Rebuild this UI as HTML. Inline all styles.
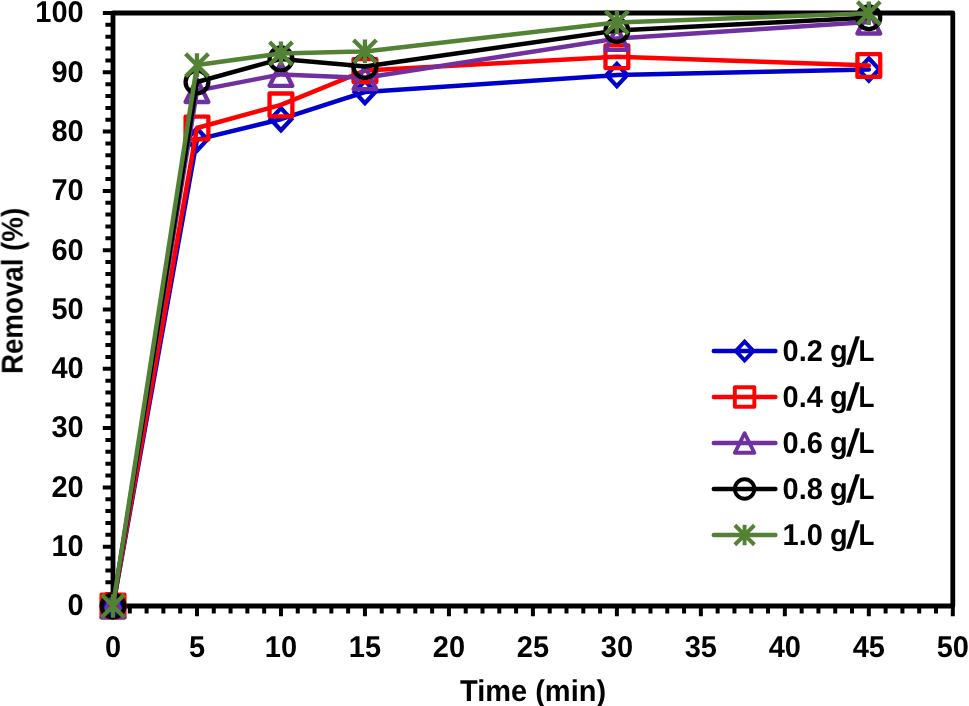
<!DOCTYPE html>
<html><head><meta charset="utf-8"><title>Removal vs Time</title>
<style>
html,body{margin:0;padding:0;background:#fff;}
body{width:969px;height:706px;overflow:hidden;font-family:"Liberation Sans",sans-serif;}
svg{display:block;}
</style></head><body>
<svg width="969" height="706" viewBox="0 0 969 706">
<rect width="969" height="706" fill="#fff"/>
<path d="M113.00 606.00H102.80M113.00 594.14H105.40M113.00 582.28H105.40M113.00 570.42H105.40M113.00 558.56H105.40M113.00 546.70H102.80M113.00 534.84H105.40M113.00 522.98H105.40M113.00 511.12H105.40M113.00 499.26H105.40M113.00 487.40H102.80M113.00 475.54H105.40M113.00 463.68H105.40M113.00 451.82H105.40M113.00 439.96H105.40M113.00 428.10H102.80M113.00 416.24H105.40M113.00 404.38H105.40M113.00 392.52H105.40M113.00 380.66H105.40M113.00 368.80H102.80M113.00 356.94H105.40M113.00 345.08H105.40M113.00 333.22H105.40M113.00 321.36H105.40M113.00 309.50H102.80M113.00 297.64H105.40M113.00 285.78H105.40M113.00 273.92H105.40M113.00 262.06H105.40M113.00 250.20H102.80M113.00 238.34H105.40M113.00 226.48H105.40M113.00 214.62H105.40M113.00 202.76H105.40M113.00 190.90H102.80M113.00 179.04H105.40M113.00 167.18H105.40M113.00 155.32H105.40M113.00 143.46H105.40M113.00 131.60H102.80M113.00 119.74H105.40M113.00 107.88H105.40M113.00 96.02H105.40M113.00 84.16H105.40M113.00 72.30H102.80M113.00 60.44H105.40M113.00 48.58H105.40M113.00 36.72H105.40M113.00 24.86H105.40M113.00 13.00H102.80M113.00 606.00V616.20M129.80 606.00V613.60M146.59 606.00V613.60M163.39 606.00V613.60M180.18 606.00V613.60M196.98 606.00V616.20M213.78 606.00V613.60M230.57 606.00V613.60M247.37 606.00V613.60M264.16 606.00V613.60M280.96 606.00V616.20M297.76 606.00V613.60M314.55 606.00V613.60M331.35 606.00V613.60M348.14 606.00V613.60M364.94 606.00V616.20M381.74 606.00V613.60M398.53 606.00V613.60M415.33 606.00V613.60M432.12 606.00V613.60M448.92 606.00V616.20M465.72 606.00V613.60M482.51 606.00V613.60M499.31 606.00V613.60M516.10 606.00V613.60M532.90 606.00V616.20M549.70 606.00V613.60M566.49 606.00V613.60M583.29 606.00V613.60M600.08 606.00V613.60M616.88 606.00V616.20M633.68 606.00V613.60M650.47 606.00V613.60M667.27 606.00V613.60M684.06 606.00V613.60M700.86 606.00V616.20M717.66 606.00V613.60M734.45 606.00V613.60M751.25 606.00V613.60M768.04 606.00V613.60M784.84 606.00V616.20M801.64 606.00V613.60M818.43 606.00V613.60M835.23 606.00V613.60M852.02 606.00V613.60M868.82 606.00V616.20M885.62 606.00V613.60M902.41 606.00V613.60M919.21 606.00V613.60M936.00 606.00V613.60M952.80 606.00V616.20" stroke="#000" stroke-width="4" fill="none"/>
<rect x="113.0" y="13.0" width="839.80" height="593.00" fill="none" stroke="#000" stroke-width="4.8" stroke-linejoin="round"/>
<g font-family="Liberation Sans, sans-serif" font-weight="bold" font-size="30" fill="#000" text-rendering="geometricPrecision" style="opacity:0.999">
<text transform="translate(83.70 615.30) scale(0.967 1)" text-anchor="end">0</text>
<text transform="translate(83.70 556.00) scale(0.967 1)" text-anchor="end">10</text>
<text transform="translate(83.70 496.70) scale(0.967 1)" text-anchor="end">20</text>
<text transform="translate(83.70 437.40) scale(0.967 1)" text-anchor="end">30</text>
<text transform="translate(83.70 378.10) scale(0.967 1)" text-anchor="end">40</text>
<text transform="translate(83.70 318.80) scale(0.967 1)" text-anchor="end">50</text>
<text transform="translate(83.70 259.50) scale(0.967 1)" text-anchor="end">60</text>
<text transform="translate(83.70 200.20) scale(0.967 1)" text-anchor="end">70</text>
<text transform="translate(83.70 140.90) scale(0.967 1)" text-anchor="end">80</text>
<text transform="translate(83.70 81.60) scale(0.967 1)" text-anchor="end">90</text>
<text transform="translate(83.70 22.30) scale(0.967 1)" text-anchor="end">100</text>
<text transform="translate(113.00 657.40) scale(0.967 1)" text-anchor="middle">0</text>
<text transform="translate(196.98 657.40) scale(0.967 1)" text-anchor="middle">5</text>
<text transform="translate(280.96 657.40) scale(0.967 1)" text-anchor="middle">10</text>
<text transform="translate(364.94 657.40) scale(0.967 1)" text-anchor="middle">15</text>
<text transform="translate(448.92 657.40) scale(0.967 1)" text-anchor="middle">20</text>
<text transform="translate(532.90 657.40) scale(0.967 1)" text-anchor="middle">25</text>
<text transform="translate(616.88 657.40) scale(0.967 1)" text-anchor="middle">30</text>
<text transform="translate(700.86 657.40) scale(0.967 1)" text-anchor="middle">35</text>
<text transform="translate(784.84 657.40) scale(0.967 1)" text-anchor="middle">40</text>
<text transform="translate(868.82 657.40) scale(0.967 1)" text-anchor="middle">45</text>
<text transform="translate(952.80 657.40) scale(0.967 1)" text-anchor="middle">50</text>
<text transform="translate(533.00 701.00) scale(0.967 1)" text-anchor="middle">Time (min)</text>
<text transform="translate(22.60 290.90) rotate(-90) scale(0.9234849999999999 1)" text-anchor="middle">Removal (%)</text>
<text transform="translate(782.5 360.70) scale(0.967 1)">0.2 <tspan dx="-1">g</tspan></text>
<text transform="matrix(1.27 0 -0.182 1.276 845.7 364.00)">/</text>
<text transform="translate(874.5 360.70) scale(0.87 1)" text-anchor="end">L</text>
<text transform="translate(782.5 406.70) scale(0.967 1)">0.4 <tspan dx="-1">g</tspan></text>
<text transform="matrix(1.27 0 -0.182 1.276 845.7 410.00)">/</text>
<text transform="translate(874.5 406.70) scale(0.87 1)" text-anchor="end">L</text>
<text transform="translate(782.5 452.70) scale(0.967 1)">0.6 <tspan dx="-1">g</tspan></text>
<text transform="matrix(1.27 0 -0.182 1.276 845.7 456.00)">/</text>
<text transform="translate(874.5 452.70) scale(0.87 1)" text-anchor="end">L</text>
<text transform="translate(782.5 498.70) scale(0.967 1)">0.8 <tspan dx="-1">g</tspan></text>
<text transform="matrix(1.27 0 -0.182 1.276 845.7 502.00)">/</text>
<text transform="translate(874.5 498.70) scale(0.87 1)" text-anchor="end">L</text>
<text transform="translate(782.5 544.70) scale(0.967 1)">1.0 <tspan dx="-1">g</tspan></text>
<text transform="matrix(1.27 0 -0.182 1.276 845.7 548.00)">/</text>
<text transform="translate(874.5 544.70) scale(0.87 1)" text-anchor="end">L</text>
</g>
<polyline points="113.00,606.00 196.98,139.60 280.96,119.20 364.94,92.00 616.88,75.10 868.82,69.40" fill="none" stroke="#0000CC" stroke-width="4.5" stroke-linejoin="round" stroke-linecap="round"/>
<path d="M113.00 594.90L123.32 606.00L113.00 617.10L102.68 606.00Z" fill="none" stroke="#0000CC" stroke-width="4.3" stroke-linejoin="miter"/>
<path d="M196.98 128.50L207.30 139.60L196.98 150.70L186.66 139.60Z" fill="none" stroke="#0000CC" stroke-width="4.3" stroke-linejoin="miter"/>
<path d="M280.96 108.10L291.28 119.20L280.96 130.30L270.64 119.20Z" fill="none" stroke="#0000CC" stroke-width="4.3" stroke-linejoin="miter"/>
<path d="M364.94 80.90L375.26 92.00L364.94 103.10L354.62 92.00Z" fill="none" stroke="#0000CC" stroke-width="4.3" stroke-linejoin="miter"/>
<path d="M616.88 64.00L627.20 75.10L616.88 86.20L606.56 75.10Z" fill="none" stroke="#0000CC" stroke-width="4.3" stroke-linejoin="miter"/>
<path d="M868.82 58.30L879.14 69.40L868.82 80.50L858.50 69.40Z" fill="none" stroke="#0000CC" stroke-width="4.3" stroke-linejoin="miter"/>
<polyline points="113.00,606.00 196.98,128.00 280.96,104.90 364.94,70.60 616.88,56.70 868.82,65.50" fill="none" stroke="#FF0000" stroke-width="4.5" stroke-linejoin="round" stroke-linecap="round"/>
<rect x="101.60" y="594.60" width="22.80" height="22.80" fill="none" stroke="#FF0000" stroke-width="4.3" stroke-linejoin="round"/>
<rect x="185.58" y="116.60" width="22.80" height="22.80" fill="none" stroke="#FF0000" stroke-width="4.3" stroke-linejoin="round"/>
<rect x="269.56" y="93.50" width="22.80" height="22.80" fill="none" stroke="#FF0000" stroke-width="4.3" stroke-linejoin="round"/>
<rect x="353.54" y="59.20" width="22.80" height="22.80" fill="none" stroke="#FF0000" stroke-width="4.3" stroke-linejoin="round"/>
<rect x="605.48" y="45.30" width="22.80" height="22.80" fill="none" stroke="#FF0000" stroke-width="4.3" stroke-linejoin="round"/>
<rect x="857.42" y="54.10" width="22.80" height="22.80" fill="none" stroke="#FF0000" stroke-width="4.3" stroke-linejoin="round"/>
<polyline points="113.00,606.00 196.98,90.60 280.96,74.40 364.94,77.80 616.88,38.50 868.82,22.10" fill="none" stroke="#7030A0" stroke-width="4.5" stroke-linejoin="round" stroke-linecap="round"/>
<path d="M113.00 594.60L124.40 617.40L101.60 617.40Z" fill="none" stroke="#7030A0" stroke-width="4.3" stroke-linejoin="round"/>
<path d="M196.98 79.20L208.38 102.00L185.58 102.00Z" fill="none" stroke="#7030A0" stroke-width="4.3" stroke-linejoin="round"/>
<path d="M280.96 63.00L292.36 85.80L269.56 85.80Z" fill="none" stroke="#7030A0" stroke-width="4.3" stroke-linejoin="round"/>
<path d="M364.94 66.40L376.34 89.20L353.54 89.20Z" fill="none" stroke="#7030A0" stroke-width="4.3" stroke-linejoin="round"/>
<path d="M616.88 27.10L628.28 49.90L605.48 49.90Z" fill="none" stroke="#7030A0" stroke-width="4.3" stroke-linejoin="round"/>
<path d="M868.82 10.70L880.22 33.50L857.42 33.50Z" fill="none" stroke="#7030A0" stroke-width="4.3" stroke-linejoin="round"/>
<polyline points="113.00,606.00 196.98,82.00 280.96,58.90 364.94,66.50 616.88,30.50 868.82,17.70" fill="none" stroke="#000000" stroke-width="4.5" stroke-linejoin="round" stroke-linecap="round"/>
<circle cx="113.00" cy="606.00" r="11.40" fill="none" stroke="#000000" stroke-width="4.3"/>
<circle cx="196.98" cy="82.00" r="11.40" fill="none" stroke="#000000" stroke-width="4.3"/>
<circle cx="280.96" cy="58.90" r="11.40" fill="none" stroke="#000000" stroke-width="4.3"/>
<circle cx="364.94" cy="66.50" r="11.40" fill="none" stroke="#000000" stroke-width="4.3"/>
<circle cx="616.88" cy="30.50" r="11.40" fill="none" stroke="#000000" stroke-width="4.3"/>
<circle cx="868.82" cy="17.70" r="11.40" fill="none" stroke="#000000" stroke-width="4.3"/>
<polyline points="113.00,606.00 196.98,65.10 280.96,53.40 364.94,51.40 616.88,22.40 868.82,13.20" fill="none" stroke="#548235" stroke-width="4.5" stroke-linejoin="round" stroke-linecap="round"/>
<path d="M101.60 594.60L124.40 617.40M124.40 594.60L101.60 617.40M113.00 594.20L113.00 617.80" fill="none" stroke="#548235" stroke-width="4.3" stroke-linecap="butt"/>
<path d="M185.58 53.70L208.38 76.50M208.38 53.70L185.58 76.50M196.98 53.30L196.98 76.90" fill="none" stroke="#548235" stroke-width="4.3" stroke-linecap="butt"/>
<path d="M269.56 42.00L292.36 64.80M292.36 42.00L269.56 64.80M280.96 41.60L280.96 65.20" fill="none" stroke="#548235" stroke-width="4.3" stroke-linecap="butt"/>
<path d="M353.54 40.00L376.34 62.80M376.34 40.00L353.54 62.80M364.94 39.60L364.94 63.20" fill="none" stroke="#548235" stroke-width="4.3" stroke-linecap="butt"/>
<path d="M605.48 11.00L628.28 33.80M628.28 11.00L605.48 33.80M616.88 10.60L616.88 34.20" fill="none" stroke="#548235" stroke-width="4.3" stroke-linecap="butt"/>
<path d="M857.42 1.80L880.22 24.60M880.22 1.80L857.42 24.60M868.82 1.40L868.82 25.00" fill="none" stroke="#548235" stroke-width="4.3" stroke-linecap="butt"/>
<path d="M713.8 351H775.4" stroke="#0000CC" stroke-width="4.5" stroke-linecap="round" fill="none"/>
<path d="M744.60 341.55L753.39 351.00L744.60 360.45L735.81 351.00Z" fill="none" stroke="#0000CC" stroke-width="3.9" stroke-linejoin="miter"/>
<path d="M713.8 397H775.4" stroke="#FF0000" stroke-width="4.5" stroke-linecap="round" fill="none"/>
<rect x="734.85" y="387.25" width="19.50" height="19.50" fill="none" stroke="#FF0000" stroke-width="3.9" stroke-linejoin="round"/>
<path d="M713.8 443H775.4" stroke="#7030A0" stroke-width="4.5" stroke-linecap="round" fill="none"/>
<path d="M744.60 433.25L754.35 452.75L734.85 452.75Z" fill="none" stroke="#7030A0" stroke-width="3.9" stroke-linejoin="round"/>
<path d="M713.8 489H775.4" stroke="#000000" stroke-width="4.5" stroke-linecap="round" fill="none"/>
<circle cx="744.60" cy="489.00" r="9.75" fill="none" stroke="#000000" stroke-width="3.9"/>
<path d="M713.8 535H775.4" stroke="#548235" stroke-width="4.5" stroke-linecap="round" fill="none"/>
<path d="M734.85 525.25L754.35 544.75M754.35 525.25L734.85 544.75M744.60 524.85L744.60 545.15" fill="none" stroke="#548235" stroke-width="3.9" stroke-linecap="butt"/>
</svg>
</body></html>
